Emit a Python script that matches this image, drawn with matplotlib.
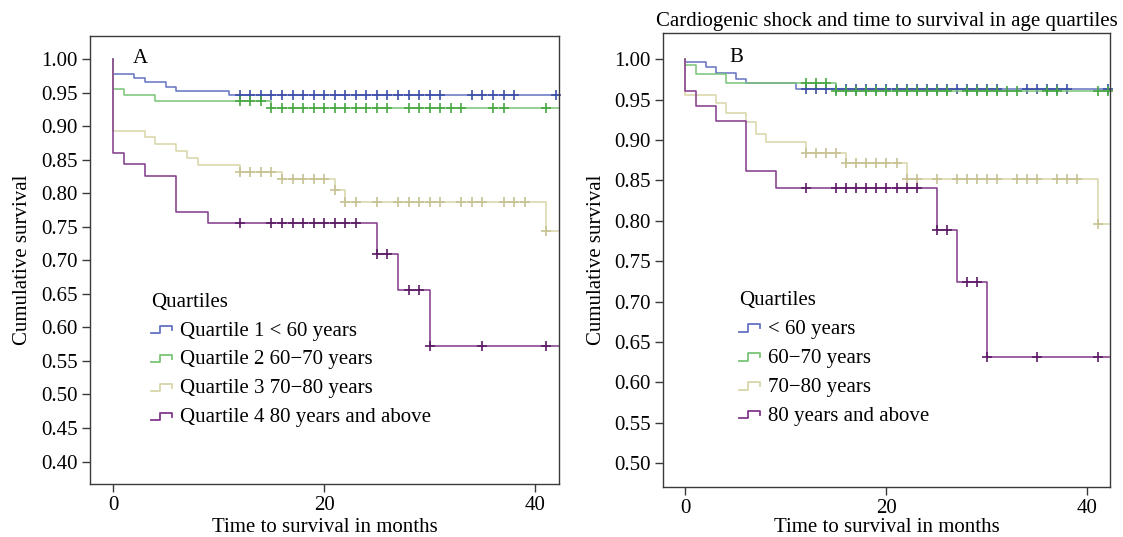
import numpy as np
import matplotlib
matplotlib.use("Agg")
import matplotlib.pyplot as plt
from matplotlib.lines import Line2D
from matplotlib.legend_handler import HandlerBase

plt.rcParams['font.family'] = ['Liberation Serif', 'DejaVu Serif']
plt.rcParams['font.size'] = 15

# ---- data: panel A (step times, survival, censor times) ----
a_q1_t = [0, 0, 2, 3, 5, 6, 11]
a_q1_s = [1.0, 0.977, 0.971, 0.965, 0.959, 0.952, 0.946]
a_q1_c = [12, 13, 14, 15, 16, 17, 18, 19, 20, 21, 22, 23, 24, 25, 26, 27, 28, 29, 30, 31,
          34, 35, 36, 37, 38, 42]

a_q2_t = [0, 0, 1, 4, 15]
a_q2_s = [1.0, 0.955, 0.947, 0.937, 0.927]
a_q2_c = [12, 13, 14, 15, 16, 17, 18, 19, 20, 21, 22, 23, 24, 25, 26,
          28, 29, 30, 31, 32, 33, 36, 37, 41]

a_q3_t = [0, 0, 3, 4, 6, 7, 8, 12, 16, 21, 22, 41]
a_q3_s = [1.0, 0.893, 0.883, 0.873, 0.863, 0.852, 0.842, 0.832, 0.821, 0.805, 0.787, 0.744]
a_q3_c = [12, 13, 14, 15, 16, 17, 18, 19, 20, 21, 22, 23, 25, 27, 28, 29, 30, 31,
          33, 34, 35, 37, 38, 39, 41]

a_q4_t = [0, 0, 1, 3, 6, 9, 25, 27, 30]
a_q4_s = [1.0, 0.860, 0.843, 0.826, 0.772, 0.755, 0.710, 0.655, 0.573]
a_q4_c = [12, 15, 16, 17, 18, 19, 20, 21, 22, 23, 25, 26, 28, 29, 30, 35, 41]

# ---- data: panel B ----
b_q1_t = [0, 0, 2, 3, 5, 6, 11]
b_q1_s = [1.0, 0.996, 0.990, 0.983, 0.976, 0.970, 0.963]
b_q1_c = [12, 13, 14, 15, 16, 17, 18, 19, 20, 21, 22, 23, 24, 25, 26, 27, 28, 29, 30, 31,
          34, 35, 36, 37, 38, 42]

b_q2_t = [0, 0, 1, 4, 15]
b_q2_s = [1.0, 0.993, 0.982, 0.971, 0.960]
b_q2_c = [12, 13, 14, 15, 16, 17, 18, 19, 20, 21, 22, 23, 24, 25, 26,
          28, 29, 30, 31, 32, 33, 36, 37, 41, 42]

b_q3_t = [0, 0, 3, 4, 6, 7, 8, 12, 16, 22, 41]
b_q3_s = [1.0, 0.956, 0.946, 0.933, 0.922, 0.908, 0.897, 0.884, 0.872, 0.852, 0.796]
b_q3_c = [12, 13, 14, 15, 16, 17, 18, 19, 20, 21, 22, 23, 25, 27, 28, 29, 30, 31,
          33, 34, 35, 37, 38, 39, 41]

b_q4_t = [0, 0, 1, 3, 6, 9, 25, 27, 30]
b_q4_s = [1.0, 0.961, 0.942, 0.923, 0.862, 0.841, 0.789, 0.724, 0.632]
b_q4_c = [12, 15, 16, 17, 18, 19, 20, 21, 22, 23, 25, 26, 28, 29, 30, 35, 41]

labels_a = ['Quartile 1 < 60 years', 'Quartile 2 60\u221270 years',
            'Quartile 3 70\u221280 years', 'Quartile 4 80 years and above']
labels_b = ['< 60 years', '60\u221270 years', '70\u221280 years', '80 years and above']

line_colors = ['#6373c4', '#79c476', '#d8d5a8', '#82388c']
mark_colors = ['#3c4fa8', '#47a843', '#c6c294', '#5c1a66']

x_end = 42.3


class StepHandler(HandlerBase):
    """ SPSS style step glyph for the legend """
    def create_artists(self, legend, orig_handle, xdescent, ydescent,
                       width, height, fontsize, trans):
        xs = np.array([0, 0.4, 0.4, 1.0, 1.0]) * width - xdescent
        ys = np.array([0.15, 0.15, 0.65, 0.65, 0.4]) * height - ydescent
        ln = Line2D(xs, ys, color=orig_handle.get_color(), lw=1.3)
        ln.set_transform(trans)
        return [ln]


def draw_km(ax, times, surv, cens, lc, mc):
    t = list(times) + [x_end]
    s = list(surv) + [surv[-1]]
    line, = ax.step(t, s, where='post', color=lc, lw=1.1)
    idx = np.searchsorted(np.array(times), np.array(cens), side='right') - 1
    cy = np.array(surv)[idx]
    ax.plot(cens, cy, linestyle='none', marker='+', markersize=7,
            markeredgewidth=1.2, color=mc, clip_on=False)
    return line


def style_axes(ax, ylim, yticks, xpad):
    ax.set_xlim(-2.2, 42.25)
    ax.set_ylim(*ylim)
    ax.set_xticks([0, 20, 40])
    ax.set_yticks(yticks)
    ax.set_yticklabels(['%.2f' % v for v in yticks])
    for sp in ax.spines.values():
        sp.set_color('#3a3a3a')
        sp.set_linewidth(1.0)
    ax.tick_params(axis='both', direction='out', length=6, width=1.0,
                   color='#3a3a3a', labelsize=15, pad=3)
    ax.tick_params(top=False, right=False)
    ax.set_xlabel('Time to survival in months', fontsize=15, labelpad=xpad)
    ax.set_ylabel('Cumulative survival', fontsize=15, labelpad=6)


fig = plt.figure(figsize=(11.23, 5.37), dpi=100)
ax_a = fig.add_axes([0.0801, 0.0987, 0.4176, 0.8348])
ax_b = fig.add_axes([0.5907, 0.0937, 0.3978, 0.8443])

panel_a = [(a_q1_t, a_q1_s, a_q1_c), (a_q2_t, a_q2_s, a_q2_c),
           (a_q3_t, a_q3_s, a_q3_c), (a_q4_t, a_q4_s, a_q4_c)]
panel_b = [(b_q1_t, b_q1_s, b_q1_c), (b_q2_t, b_q2_s, b_q2_c),
           (b_q3_t, b_q3_s, b_q3_c), (b_q4_t, b_q4_s, b_q4_c)]

for ax, panel, labels, anchor in [(ax_a, panel_a, labels_a, (0.131, 0.427)),
                                  (ax_b, panel_b, labels_b, (0.170, 0.432))]:
    handles = []
    for (t, s, c), lc, mc in zip(panel, line_colors, mark_colors):
        handles.append(draw_km(ax, t, s, c, lc, mc))
    ax.legend(handles, labels, title='Quartiles', loc='upper left',
              frameon=False, fontsize=15, title_fontsize=15,
              handler_map={Line2D: StepHandler()},
              handlelength=1.0, handletextpad=0.38, labelspacing=0.45,
              borderpad=0, borderaxespad=0, alignment='left',
              bbox_to_anchor=anchor)

style_axes(ax_a, (0.3666, 1.0347), [0.40, 0.45, 0.50, 0.55, 0.60, 0.65, 0.70,
                                   0.75, 0.80, 0.85, 0.90, 0.95, 1.00], 2)
style_axes(ax_b, (0.471, 1.032), [0.50, 0.55, 0.60, 0.65, 0.70, 0.75, 0.80,
                                 0.85, 0.90, 0.95, 1.00], 0)

ax_a.text(0.107, 0.95, 'A', transform=ax_a.transAxes, ha='center', va='center', fontsize=15)
ax_b.text(0.163, 0.946, 'B', transform=ax_b.transAxes, ha='center', va='center', fontsize=15)
ax_b.set_title('Cardiogenic shock and time to survival in age quartiles', fontsize=15, pad=5)

fig.savefig('out.png', dpi=100)
